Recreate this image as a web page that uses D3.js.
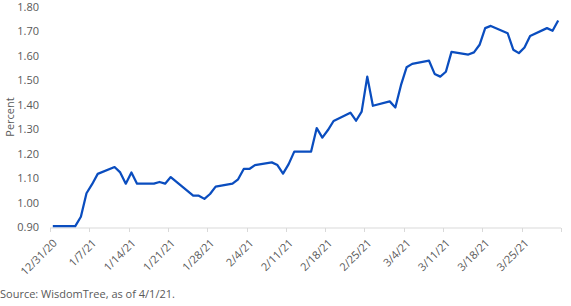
<!DOCTYPE html>
<html>
<head>
<meta charset="utf-8">
<script src="https://cdn.jsdelivr.net/npm/d3@7"></script>
<style>
  body { margin: 0; background: #fff; }
  text { font-family: "Open Sans", "Noto Sans", sans-serif; }
</style>
</head>
<body>
<div id="chart"></div>
<script>
const width = 571;
const height = 306;

// trading dates and yield values (percent)
const dates = [
    "2020-12-31", "2021-01-04", "2021-01-05", "2021-01-06", "2021-01-07", "2021-01-08",
    "2021-01-11", "2021-01-12", "2021-01-13", "2021-01-14", "2021-01-15", "2021-01-18",
    "2021-01-19", "2021-01-20", "2021-01-21", "2021-01-25", "2021-01-26", "2021-01-27",
    "2021-01-28", "2021-01-29", "2021-02-01", "2021-02-02", "2021-02-03", "2021-02-04",
    "2021-02-05", "2021-02-08", "2021-02-09", "2021-02-10", "2021-02-11", "2021-02-12",
    "2021-02-15", "2021-02-16", "2021-02-17", "2021-02-18", "2021-02-19", "2021-02-22",
    "2021-02-23", "2021-02-24", "2021-02-25", "2021-02-26", "2021-03-01", "2021-03-02",
    "2021-03-03", "2021-03-04", "2021-03-05", "2021-03-08", "2021-03-09", "2021-03-10",
    "2021-03-11", "2021-03-12", "2021-03-15", "2021-03-16", "2021-03-17", "2021-03-18",
    "2021-03-19", "2021-03-22", "2021-03-23", "2021-03-24", "2021-03-25", "2021-03-26",
    "2021-03-29", "2021-03-30", "2021-03-31"
];
const values = [
    0.905, 0.905, 0.943, 1.039, 1.076, 1.118,
    1.146, 1.124, 1.078, 1.124, 1.078, 1.078,
    1.085, 1.078, 1.105, 1.029, 1.029, 1.016,
    1.036, 1.066, 1.078, 1.096, 1.138, 1.138,
    1.154, 1.165, 1.154, 1.119, 1.158, 1.209,
    1.209, 1.305, 1.266, 1.297, 1.334, 1.368,
    1.335, 1.372, 1.515, 1.396, 1.414, 1.389,
    1.480, 1.553, 1.567, 1.580, 1.526, 1.515,
    1.535, 1.616, 1.605, 1.614, 1.645, 1.713,
    1.722, 1.692, 1.625, 1.611, 1.634, 1.681,
    1.713, 1.702, 1.744
];
const yTicks = [0.9, 1.0, 1.1, 1.2, 1.3, 1.4, 1.5, 1.6, 1.7, 1.8];
const xTickLabels = ["12/31/20", "1/7/21", "1/14/21", "1/21/21", "1/28/21", "2/4/21", "2/11/21",
    "2/18/21", "2/25/21", "3/4/21", "3/11/21", "3/18/21", "3/25/21", ""];
const sourceText = "Source: WisdomTree, as of 4/1/21.";

const parseDate = d3.timeParse("%Y-%m-%d");
const data = dates.map((d, i) => ({ date: parseDate(d), value: values[i] }));

const margin = { left: 50, right: 10 };
const axisY = 228;

const x = d3.scaleTime()
    .domain([parseDate("2020-12-31"), parseDate("2021-04-01")])
    .range([margin.left, width - margin.right]);

const y = d3.scaleLinear()
    .domain([0.9, 1.8])
    .range([227.3, 6.8]);

const svg = d3.select("#chart").append("svg")
    .attr("width", width)
    .attr("height", height);

// weekly ticks on Thursdays, starting 12/31/20
const weekTicks = d3.range(14).map(i => d3.timeDay.offset(parseDate("2020-12-31"), i * 7));

svg.append("line")
    .attr("x1", x.range()[0]).attr("x2", x.range()[1])
    .attr("y1", axisY).attr("y2", axisY)
    .attr("stroke", "#d9d9d9").attr("stroke-width", 1);

svg.selectAll(".xtick")
    .data(weekTicks)
    .enter().append("line")
    .attr("class", "xtick")
    .attr("x1", d => Math.round(x(d)) + 0.5).attr("x2", d => Math.round(x(d)) + 0.5)
    .attr("y1", axisY).attr("y2", axisY + 4)
    .attr("stroke", "#d9d9d9");

svg.selectAll(".xlabel")
    .data(weekTicks)
    .enter().append("text")
    .attr("class", "xlabel")
    .attr("transform", d => `translate(${x(d) + 5},${axisY + 13}) rotate(-45)`)
    .attr("text-anchor", "end")
    .attr("dy", "0.35em")
    .attr("font-size", 11)
    .attr("fill", "#595959")
    .text((d, i) => xTickLabels[i]);

// y labels
svg.selectAll(".ylabel")
    .data(yTicks)
    .enter().append("text")
    .attr("class", "ylabel")
    .attr("x", 39)
    .attr("y", d => y(d))
    .attr("dy", "0.35em")
    .attr("text-anchor", "end")
    .attr("font-size", 11)
    .attr("fill", "#595959")
    .text(d => d3.format(".2f")(d));

svg.append("text")
    .attr("transform", "translate(10,117) rotate(-90)")
    .attr("text-anchor", "middle")
    .attr("dy", "0.35em")
    .attr("font-size", 11)
    .attr("fill", "#595959")
    .text("Percent");

// line, points sit at the middle of each day
const line = d3.line()
    .x(d => x(d3.timeHour.offset(d.date, 12)))
    .y(d => y(d.value));

svg.append("path")
    .datum(data)
    .attr("fill", "none")
    .attr("stroke", "#0a4dbf")
    .attr("stroke-width", 2.25)
    .attr("stroke-linejoin", "round")
    .attr("d", line);

svg.append("text")
    .attr("x", 0)
    .attr("y", 294)
    .attr("dy", "0.35em")
    .attr("font-size", 11)
    .attr("fill", "#595959")
    .text(sourceText);
</script>
</body>
</html>
